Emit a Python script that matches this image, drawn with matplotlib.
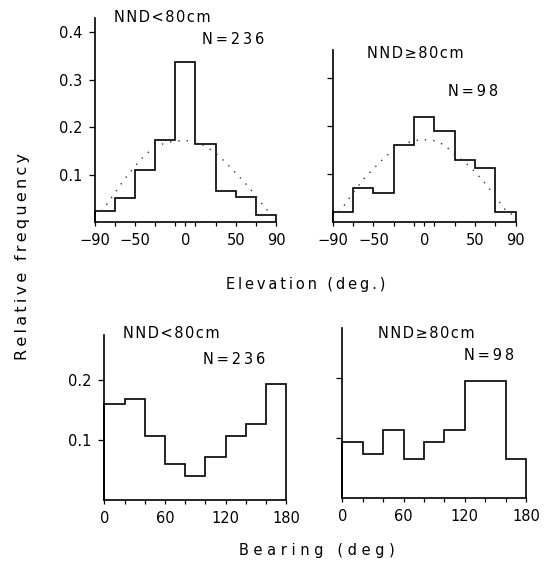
"""
Elevation / bearing histograms of nearest neighbours, split by NND (<80 cm vs >=80 cm).
Dotted line in the elevation panels = expected frequency for random directions.
"""

import numpy as np
import matplotlib.pyplot as plt
from matplotlib.ticker import FixedLocator

W, H = 546, 571

# ── Data ──────────────────────────────────────────────────────────────────────
elev_edges = [-90, -70, -50, -30, -10, 10, 30, 50, 70, 90]
elev_near = [0.024, 0.051, 0.110, 0.173, 0.338, 0.165, 0.065, 0.054, 0.015]
elev_far = [0.021, 0.071, 0.059, 0.159, 0.219, 0.190, 0.128, 0.112, 0.021]

exp_deg = [-90, -80, -70, -60, -50, -40, -30, -20, -10, 0,
           10, 20, 30, 40, 50, 60, 70, 80, 90]
exp_near = [0.012, 0.032, 0.062, 0.092, 0.118, 0.142, 0.158, 0.167, 0.171, 0.172,
            0.170, 0.160, 0.146, 0.126, 0.104, 0.081, 0.056, 0.028, 0.010]
exp_far = [0.008, 0.030, 0.060, 0.088, 0.110, 0.132, 0.150, 0.162, 0.169, 0.171,
           0.169, 0.160, 0.140, 0.124, 0.104, 0.080, 0.052, 0.024, 0.010]

bear_edges = [0, 20, 40, 60, 80, 100, 120, 140, 160, 180]
bear_near = [0.159, 0.168, 0.106, 0.060, 0.040, 0.071, 0.106, 0.127, 0.192]
bear_far = [0.093, 0.073, 0.113, 0.065, 0.094, 0.113, 0.195, 0.195, 0.066]

elev_ticks = [-90, -50, 0, 50, 90]
bear_ticks = [0, 60, 120, 180]
y_ticks = [0.1, 0.2, 0.3, 0.4]


def rect(left, right, top, bottom):
    """Axes rectangle from pixel bounds (origin top-left)."""
    return [left / W, 1 - bottom / H, (right - left) / W, (bottom - top) / H]


def spaced(s, sep="\u2009"):
    return sep.join(s)


def style(ax, xlim, ylim, xticks, minor, ylabels):
    ax.set_xlim(*xlim)
    ax.set_ylim(*ylim)
    for side in ("top", "right"):
        ax.spines[side].set_visible(False)
    for side in ("left", "bottom"):
        ax.spines[side].set_linewidth(1.2)
    ax.set_xticks(xticks)
    ax.xaxis.set_minor_locator(FixedLocator(minor))
    ax.set_yticks([t for t in y_ticks if t <= ylim[1]])
    if not ylabels:
        ax.set_yticklabels([])
    ax.tick_params(axis="x", which="both", direction="out", length=3, width=0.9,
                   pad=5, labelsize=10.5)
    ax.tick_params(axis="y", direction="out", length=4, width=0.9, pad=5,
                   labelsize=10.5)
    ax.patch.set_alpha(0)


plt.rcParams["font.family"] = ["DejaVu Sans"]
fig = plt.figure(figsize=(W / 100, H / 100), dpi=100)

ax_tl = fig.add_axes(rect(94.7, 276, 18, 222.3))
ax_tr = fig.add_axes(rect(332.7, 515.7, 50, 221.7))
ax_bl = fig.add_axes(rect(104.3, 286.3, 335, 500))
ax_br = fig.add_axes(rect(342.3, 526, 328.3, 498.3))

# ── Elevation ────────────────────────────────────────────────────────────────
for ax, vals, exp, top, lab in [(ax_tl, elev_near, exp_near, 0.43, True),
                                (ax_tr, elev_far, exp_far, 0.358, False)]:
    ax.stairs(vals, elev_edges, baseline=0, fill=False, color="black",
              lw=1.2, clip_on=False)
    ax.plot(exp_deg, exp, color="#333333", lw=1.0, ls=(0, (1, 5)), clip_on=False)
    style(ax, (-90, 90), (0, top), elev_ticks, elev_edges, lab)
    ax.set_xticklabels(["\u221290", "\u221250", "0", "50", "90"])

# ── Bearing ──────────────────────────────────────────────────────────────────
for ax, vals, top, lab in [(ax_bl, bear_near, 0.274, True),
                           (ax_br, bear_far, 0.282, False)]:
    ax.stairs(vals, bear_edges, baseline=0, fill=False, color="black",
              lw=1.2, clip_on=False)
    style(ax, (0, 180), (0, top), bear_ticks, bear_edges, lab)

# ── Annotations ──────────────────────────────────────────────────────────────
def ftext(x, y, s, **kw):
    fig.text(x / W, 1 - y / H, s, ha="center", va="center", **kw)


for x, y, s in [(162.5, 17, "NND<80cm"), (415.5, 53, "NND\u226580cm"),
                (171.5, 333, "NND<80cm"), (426.5, 333, "NND\u226580cm")]:
    ftext(x, y, spaced(s, "\u200a"), fontsize=10.5)
for x, y, s in [(233.5, 39, "N=236"), (473.5, 92, "N=98"),
                (234, 360, "N=236"), (489.5, 355, "N=98")]:
    ftext(x, y, spaced(s), fontsize=10.5)

ftext(305.5, 284, spaced("Elevation (deg.)"), fontsize=10.5)
ftext(317, 550, spaced("Bearing (deg)", " "), fontsize=10.5)
ftext(23, 257, spaced("Relative frequency", "\u2009"), fontsize=11.5,
      rotation=90)

plt.savefig("out.png", dpi=100)
plt.close()
